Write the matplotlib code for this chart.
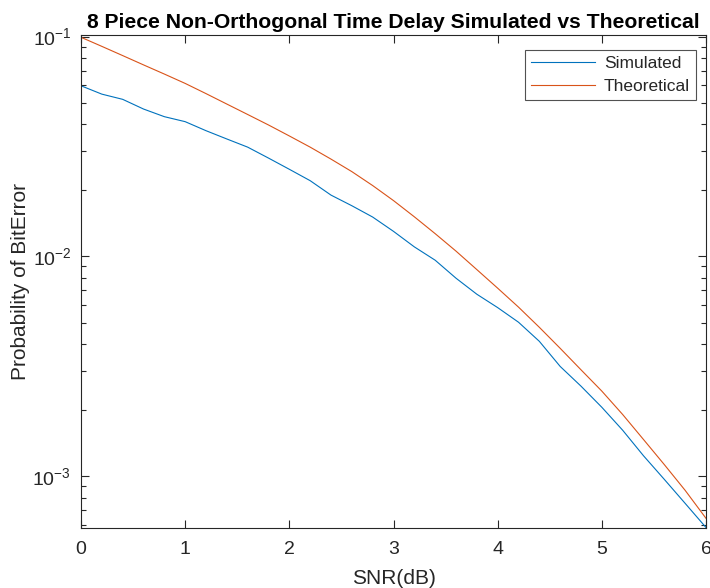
import matplotlib
matplotlib.use("Agg")
import matplotlib.pyplot as plt
from matplotlib.ticker import FixedLocator, LogLocator, NullFormatter, NullLocator

plt.rcParams['font.family'] = ['Liberation Sans', 'DejaVu Sans']
plt.rcParams['mathtext.fontset'] = 'custom'
plt.rcParams['mathtext.rm'] = 'Liberation Sans'
plt.rcParams['mathtext.it'] = 'Liberation Sans:italic'
plt.rcParams['mathtext.bf'] = 'Liberation Sans:bold'

snr_db = [0.0, 0.2, 0.4, 0.6, 0.8, 1.0, 1.2, 1.4, 1.6, 1.8, 2.0, 2.2, 2.4, 2.6, 2.8,
          3.0, 3.2, 3.4, 3.6, 3.8, 4.0, 4.2, 4.4, 4.6, 4.8, 5.0, 5.2, 5.4, 5.6, 5.8, 6.0]

simulated = [0.0597, 0.0547, 0.0518, 0.0468, 0.0432, 0.0410, 0.0373, 0.0342, 0.0314,
             0.0280, 0.0249, 0.0221, 0.0190, 0.0170, 0.0151, 0.0130, 0.01105, 0.00961,
             0.00796, 0.00673, 0.00585, 0.00502, 0.00411, 0.00316, 0.00257, 0.00206,
             0.00162, 0.00124, 0.000968, 0.000753, 0.000585]

theoretical = [0.0992, 0.0902, 0.0819, 0.0743, 0.0675, 0.0612, 0.0550, 0.0493, 0.0442,
               0.0396, 0.0353, 0.0314, 0.0277, 0.0243, 0.0210, 0.01794, 0.01514, 0.01269,
               0.01057, 0.00871, 0.00717, 0.00588, 0.00476, 0.00382, 0.00305, 0.00244,
               0.00191, 0.00147, 0.00113, 0.000863, 0.000644]

x_ticks = [0, 1, 2, 3, 4, 5, 6]
y_ticks = [1e-3, 1e-2, 1e-1]
y_tick_labels = [r'$10^{-3}$', r'$10^{-2}$', r'$10^{-1}$']

fig = plt.figure(figsize=(7.1, 5.88), dpi=100)
ax = fig.add_axes([81 / 710, 1 - 527.5 / 588, (706 - 81) / 710, (527.5 - 35) / 588])

ax.semilogy(snr_db, simulated, color='#0072BD', lw=0.8, label='Simulated')
ax.semilogy(snr_db, theoretical, color='#D95319', lw=0.8, label='Theoretical')

ax.set_xlim(0, 6)
ax.set_ylim(0.000585, 0.1016)

gray = '#262626'
ax.xaxis.set_major_locator(FixedLocator(x_ticks))
ax.xaxis.set_minor_locator(NullLocator())
ax.yaxis.set_major_locator(FixedLocator(y_ticks))
ax.set_yticklabels(y_tick_labels)
ax.yaxis.set_minor_locator(LogLocator(base=10, subs=range(2, 10)))
ax.yaxis.set_minor_formatter(NullFormatter())

ax.tick_params(which='both', direction='in', top=True, right=True, colors=gray,
               labelsize=14, width=0.8)
ax.tick_params(which='major', length=6)
ax.tick_params(axis='x', which='major', pad=10)
ax.tick_params(axis='y', which='major', pad=7)
ax.tick_params(which='minor', length=3.5)
for s in ax.spines.values():
    s.set_color(gray)
    s.set_linewidth(0.8)

ax.set_xlabel('SNR(dB)', fontsize=15, color=gray, labelpad=8)
ax.set_ylabel('Probability of BitError', fontsize=15, color=gray, labelpad=2)
ax.set_title('8 Piece Non-Orthogonal Time Delay Simulated vs Theoretical',
             fontsize=15.2, fontweight='bold', color='black', pad=5)

leg = ax.legend(loc='upper right', bbox_to_anchor=(1 - 10 / 625, 1 - 15 / 492.5),
                fontsize=12.5, frameon=True, fancybox=False,
                edgecolor=gray, handlelength=3.7, borderpad=0.35, labelspacing=0.42,
                handletextpad=0.5, borderaxespad=0.0)
leg.get_frame().set_linewidth(0.8)
for t in leg.get_texts():
    t.set_color(gray)

fig.savefig('out.png', dpi=100)
